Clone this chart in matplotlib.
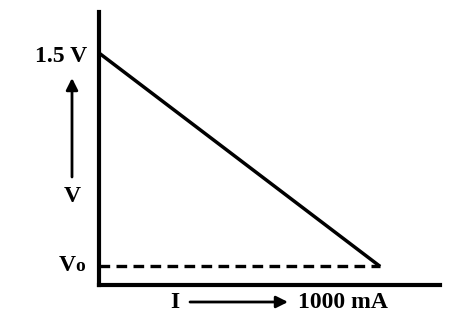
import matplotlib.pyplot as plt

# values (schematic V-I line of a cell)
current = [0, 1000]          # mA
voltage = [1.5, 0.12]        # V
v_zero = 0.12
v_top = 1.5

plt.rcParams['font.family'] = ['Liberation Serif', 'DejaVu Serif']
plt.rcParams['font.weight'] = 'bold'

W, H = 464, 333
fig = plt.figure(figsize=(W / 100, H / 100), dpi=100)
# axes: left spine at x=99 px, bottom spine at y=285 px (from top)
ax = fig.add_axes([99 / W, (H - 285) / H, 341 / W, 273 / H])
ax.set_xlim(0, 1213)
ax.set_ylim(0, 1.765)

ax.plot(current, voltage, color='black', linewidth=2.5, solid_capstyle='butt')
ax.plot([current[0], current[-1]], [v_zero, v_zero], color='black',
        linewidth=2.4, linestyle=(0, (3.2, 1.9)))

for s in ['top', 'right']:
    ax.spines[s].set_visible(False)
for s in ['left', 'bottom']:
    ax.spines[s].set_linewidth(3)
    ax.spines[s].set_capstyle('projecting')

ax.set_xticks([])
ax.set_yticks([])

# y labels next to the axis
ax.annotate('1.5 V', xy=(0, v_top), xytext=(-12, -4), textcoords='offset pixels',
            fontsize=17, fontweight='bold', ha='right', va='center',
            annotation_clip=False)
ax.annotate('o', xy=(0, v_zero), xytext=(-14, -5), textcoords='offset pixels',
            fontsize=14, fontweight='bold', ha='right', va='baseline',
            annotation_clip=False)
ax.annotate('V', xy=(0, v_zero), xytext=(-23, -5), textcoords='offset pixels',
            fontsize=17, fontweight='bold', ha='right', va='baseline',
            annotation_clip=False)

def fx(px):
    return px / W

def fy(py):
    return 1 - py / H

# vertical arrow and V label
ax.annotate('', xy=(fx(72), fy(78)), xytext=(fx(72), fy(177)),
            xycoords='figure fraction', textcoords='figure fraction',
            arrowprops=dict(arrowstyle='-|>,head_length=0.7,head_width=0.35',
                            color='black', lw=2, shrinkA=0, shrinkB=0))
fig.text(fx(72), fy(197), 'V', fontsize=17, fontweight='bold',
         ha='center', va='center')

# horizontal arrow with I and 1000 mA
fig.text(fx(175), fy(303), 'I', fontsize=17, fontweight='bold',
         ha='center', va='center')
ax.annotate('', xy=(fx(288), fy(302)), xytext=(fx(190), fy(302)),
            xycoords='figure fraction', textcoords='figure fraction',
            arrowprops=dict(arrowstyle='-|>,head_length=0.7,head_width=0.35',
                            color='black', lw=2, shrinkA=0, shrinkB=0))
fig.text(fx(298), fy(303), '1000 mA', fontsize=17, fontweight='bold',
         ha='left', va='center')

fig.savefig('out.png', dpi=100)
